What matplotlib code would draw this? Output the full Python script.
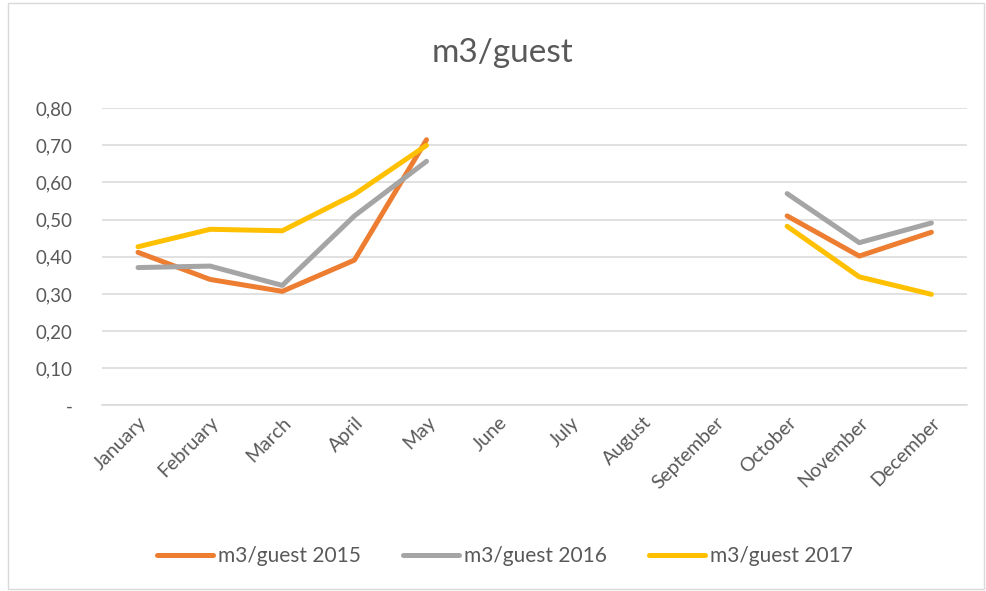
import numpy as np
import matplotlib
matplotlib.use("Agg")
import matplotlib.pyplot as plt
from matplotlib.patches import Rectangle

months = ["January", "February", "March", "April", "May", "June", "July",
          "August", "September", "October", "November", "December"]
nan = np.nan
guest_2015 = [0.412, 0.339, 0.307, 0.391, 0.715, nan, nan, nan, nan, 0.510, 0.402, 0.466]
guest_2016 = [0.371, 0.375, 0.323, 0.510, 0.657, nan, nan, nan, nan, 0.570, 0.438, 0.491]
guest_2017 = [0.427, 0.474, 0.470, 0.568, 0.700, nan, nan, nan, nan, 0.482, 0.346, 0.299]
series_labels = ["m3/guest 2015", "m3/guest 2016", "m3/guest 2017"]
y_ticks = [0, 0.1, 0.2, 0.3, 0.4, 0.5, 0.6, 0.7, 0.8]

plt.rcParams['font.family'] = ['Lato', 'DejaVu Sans']
text_col = '#595959'

fig = plt.figure(figsize=(9.86, 5.91), dpi=100)
ax = fig.add_axes([0.1034, 0.314, 0.8778, 0.503])

# chart border
fig.patches.append(Rectangle((8 / 986, 2 / 591), 976 / 986, 586 / 591,
                             transform=fig.transFigure, fill=False,
                             edgecolor='#D9D9D9', linewidth=1))

x = np.arange(len(months))
colors = ['#ED7D31', '#A5A5A5', '#FFC000']
for vals, lab, c in zip([guest_2015, guest_2016, guest_2017], series_labels, colors):
    ax.plot(x, vals, color=c, lw=3.6, label=lab, solid_capstyle='round',
            solid_joinstyle='round')

ax.set_xlim(-0.5, len(months) - 0.5)
ax.set_ylim(0, 0.8)
ax.set_yticks(y_ticks)
ax.set_yticklabels(['-'] + [f"{v:.2f}".replace('.', ',') for v in y_ticks[1:]])
ax.set_xticks(x)
ax.set_xticklabels(months, rotation=45, ha='right', rotation_mode='anchor')
ax.grid(axis='y', color='#D9D9D9', lw=1.1)
ax.set_axisbelow(True)
for s in ax.spines.values():
    s.set_visible(False)
ax.spines['bottom'].set_visible(True)
ax.spines['bottom'].set_color('#D9D9D9')
ax.spines['bottom'].set_linewidth(1.1)
ax.tick_params(length=0, colors=text_col)
ax.tick_params(axis='y', pad=21, labelsize=13.5)
ax.tick_params(axis='x', pad=6, labelsize=14)

fig.text(0.51, 0.91, "m3/guest", ha='center', va='center', fontsize=24, color=text_col)

fig.legend(loc='center', bbox_to_anchor=(0.512, 0.059), ncol=3, frameon=False,
           fontsize=15, handlelength=2.7, handletextpad=0.2, columnspacing=2.05,
           labelcolor=text_col)

fig.savefig("out.png", dpi=100)
